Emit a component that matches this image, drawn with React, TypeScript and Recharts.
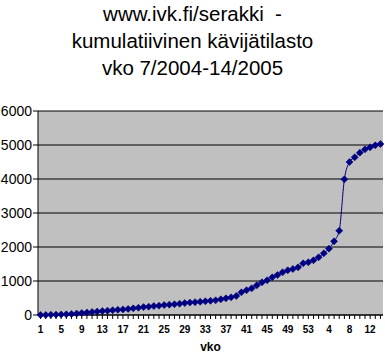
import React from 'react';
import { LineChart, Line, XAxis, YAxis, CartesianGrid } from 'recharts';

// week labels: 2004 weeks 1..53, then 2005 weeks 1..14
const weeks = [
  '1', '2', '3', '4', '5', '6', '7', '8', '9', '10',
  '11', '12', '13', '14', '15', '16', '17', '18', '19', '20',
  '21', '22', '23', '24', '25', '26', '27', '28', '29', '30',
  '31', '32', '33', '34', '35', '36', '37', '38', '39', '40',
  '41', '42', '43', '44', '45', '46', '47', '48', '49', '50',
  '51', '52', '53',
  '1', '2', '3', '4', '5', '6', '7', '8', '9', '10',
  '11', '12', '13', '14',
];

// cumulative visitors per week
const visitors = [
  0, 3, 7, 11, 15, 20, 28, 42, 58, 73,
  88, 102, 116, 128, 142, 153, 165, 178, 196, 214,
  232, 245, 262, 275, 292, 305, 316, 333, 350, 366,
  378, 392, 403, 418, 431, 461, 490, 520, 559, 667,
  730, 784, 873, 961, 1020, 1108, 1176, 1255, 1314, 1353,
  1402, 1520, 1549, 1608, 1696, 1814, 1951, 2167, 2480, 3990,
  4500, 4637, 4774, 4872, 4931, 4990, 5029,
];

const yTicks = [0, 1000, 2000, 3000, 4000, 5000, 6000];

const data = weeks.map((w, i) => ({ idx: i, week: w, visitors: visitors[i] }));

const NAVY = '#000080';

const XTick = (props: any) => {
  const { x, y, payload, index } = props;
  if (index % 4 !== 0) return <g />;
  return (
    <text x={x} y={y + 12} textAnchor="middle" fontSize={10} fontWeight="bold"
      fontFamily="Liberation Sans, Arial, sans-serif" fill="#000">
      {weeks[payload.value]}
    </text>
  );
};

const YTick = (props: any) => {
  const { x, y, payload } = props;
  return (
    <text x={x} y={y + 5} textAnchor="end" fontSize={14}
      fontFamily="Liberation Sans, Arial, sans-serif" fill="#000">
      {payload.value}
    </text>
  );
};

const Diamond = (props: any) => {
  const { cx, cy, index } = props;
  const r = 3.5;
  return (
    <polygon key={`d${index}`}
      points={`${cx},${cy - r} ${cx + r},${cy} ${cx},${cy + r} ${cx - r},${cy}`}
      fill={NAVY} stroke={NAVY} strokeWidth={0.6} />
  );
};

export default function App() {
  const font = 'Liberation Sans, Arial, sans-serif';
  return (
    <div style={{ position: 'absolute', left: 0, top: 0, width: 385, height: 358, background: '#fff', fontFamily: font }}>
      <div style={{ position: 'absolute', left: 0, top: 0, width: 385, textAlign: 'center', fontSize: 20.5, lineHeight: '27px', whiteSpace: 'pre' }}>
        {'www.ivk.fi/serakki  -\nkumulatiivinen kävijätilasto\nvko 7/2004-14/2005'}
      </div>
      <LineChart width={385} height={358} data={data}
        margin={{ top: 111, right: 2, bottom: 13, left: 0 }}>
        <CartesianGrid vertical={false} fill="#c0c0c0" stroke="#000" strokeOpacity={1} />
        <XAxis dataKey="idx" type="category" scale="band" interval={0} height={30}
          tick={<XTick />} tickSize={4} tickMargin={2}
          axisLine={{ stroke: '#000' }} tickLine={{ stroke: '#000' }} />
        <XAxis xAxisId="top" orientation="top" dataKey="idx" type="category" scale="band"
          height={0} tick={false} tickLine={false} axisLine={{ stroke: '#808080' }} />
        <YAxis domain={[0, 6000]} ticks={yTicks} width={38} tick={<YTick />}
          tickSize={5} tickMargin={1} interval={0}
          axisLine={{ stroke: '#000' }} tickLine={{ stroke: '#000' }} />
        <YAxis yAxisId="right" orientation="right" domain={[0, 6000]} width={0}
          tick={false} tickLine={false} axisLine={{ stroke: '#808080' }} />
        <Line dataKey="visitors" type="monotone" stroke={NAVY} strokeWidth={1}
          dot={Diamond} activeDot={false} isAnimationActive={false} />
      </LineChart>
      <div style={{ position: 'absolute', left: 0, width: 421, top: 340, textAlign: 'center', fontSize: 12, fontWeight: 'bold' }}>
        vko
      </div>
    </div>
  );
}
